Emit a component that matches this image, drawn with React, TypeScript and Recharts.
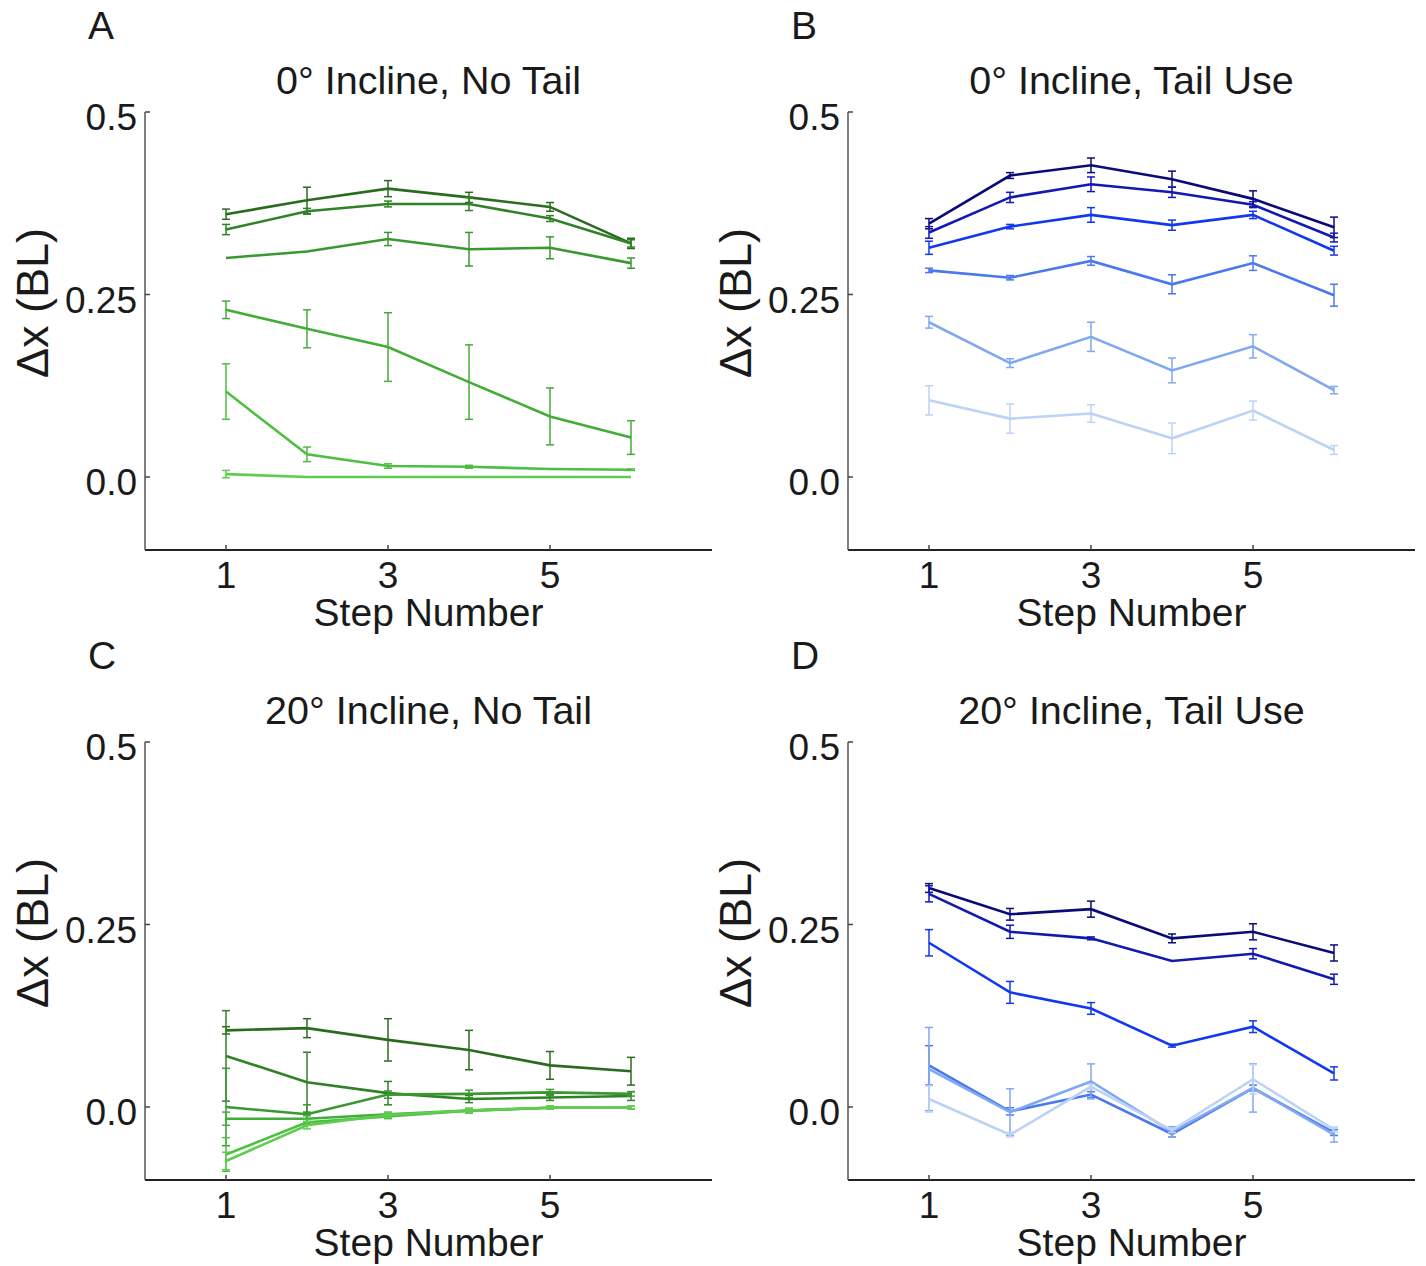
import React from "react";
import { LineChart, Line, XAxis, YAxis, ErrorBar } from "recharts";

const steps = [1, 2, 3, 4, 5, 6];
const xTicks = [1, 3, 5];
const yTicks = [0, 0.25, 0.5];

const greens = ["#2b6b1f", "#318227", "#39982f", "#43ad37", "#4dbf41", "#5fcd50"];
const blues = ["#0b0b78", "#1219b0", "#1138ee", "#4a78ee", "#80a8f2", "#bcd3f6"];

// panel A: 0° incline, no tail
const aMeans = [
  [0.36, 0.379, 0.395, 0.383, 0.37, 0.32],
  [0.339, 0.364, 0.374, 0.374, 0.354, 0.32],
  [0.3, 0.309, 0.326, 0.312, 0.314, 0.293],
  [0.229, 0.203, 0.178, 0.13, 0.083, 0.054],
  [0.117, 0.031, 0.015, 0.014, 0.011, 0.01],
  [0.004, 0, 0, 0, 0, 0],
];
const aErrs = [
  [0.007, 0.018, 0.011, 0.007, 0.006, 0.007],
  [0.007, 0.004, 0.004, 0.009, 0.004, 0.005],
  [null, null, 0.009, 0.023, 0.015, 0.007],
  [0.012, 0.026, 0.047, 0.051, 0.039, 0.023],
  [0.038, 0.01, 0.003, 0.002, null, 0.001],
  [0.005, null, null, null, null, null],
];

// panel B: 0° incline, tail use
const bMeans = [
  [0.347, 0.413, 0.427, 0.408, 0.381, 0.342],
  [0.335, 0.383, 0.401, 0.39, 0.373, 0.328],
  [0.314, 0.343, 0.359, 0.345, 0.359, 0.31],
  [0.283, 0.273, 0.296, 0.264, 0.293, 0.249],
  [0.212, 0.156, 0.192, 0.146, 0.179, 0.119],
  [0.105, 0.08, 0.087, 0.053, 0.091, 0.037],
];
const bErrs = [
  [0.007, 0.004, 0.01, 0.011, 0.011, 0.014],
  [0.008, 0.007, 0.01, 0.007, 0.004, 0.006],
  [0.009, 0.003, 0.01, 0.007, 0.005, 0.006],
  [0.003, 0.003, 0.006, 0.013, 0.01, 0.015],
  [0.008, 0.006, 0.02, 0.017, 0.016, 0.005],
  [0.02, 0.02, 0.012, 0.021, 0.013, 0.006],
];

// panel C: 20° incline, no tail
const cMeans = [
  [0.105, 0.108, 0.092, 0.078, 0.057, 0.049],
  [0.07, 0.034, 0.019, 0.011, 0.013, 0.015],
  [0.0, -0.01, 0.017, 0.018, 0.02, 0.018],
  [-0.016, -0.016, -0.01, -0.005, -0.001, -0.001],
  [-0.065, -0.021, -0.013, -0.005, -0.001, -0.001],
  [-0.074, -0.025, -0.011, -0.005, -0.001, -0.001],
];
const cErrs = [
  [0.005, 0.013, 0.029, 0.027, 0.019, 0.019],
  [0.062, 0.041, 0.016, 0.005, 0.004, 0.006],
  [0.053, 0.013, 0.005, 0.005, 0.004, 0.003],
  [0.009, 0.004, 0.003, 0.003, 0.002, 0.002],
  [0.023, 0.004, 0.003, 0.003, 0.002, 0.002],
  [0.012, 0.005, 0.003, 0.003, 0.002, 0.002],
];

// panel D: 20° incline, tail use
const dMeans = [
  [0.3, 0.264, 0.271, 0.231, 0.24, 0.211],
  [0.292, 0.24, 0.231, 0.2, 0.21, 0.175],
  [0.225, 0.157, 0.135, 0.084, 0.11, 0.046],
  [0.057, -0.006, 0.017, -0.037, 0.026, -0.035],
  [0.052, -0.007, 0.035, -0.034, 0.026, -0.038],
  [0.011, -0.038, 0.028, -0.032, 0.038, -0.031],
];
const dErrs = [
  [0.006, 0.008, 0.011, 0.006, 0.011, 0.011],
  [0.011, 0.009, 0.002, null, 0.007, 0.007],
  [0.018, 0.015, 0.008, 0.002, 0.008, 0.009],
  [0.027, 0.005, 0.004, 0.004, 0.004, 0.004],
  [0.057, 0.032, 0.024, 0.007, 0.033, 0.01],
  [0.018, 0.003, 0.003, 0.003, 0.02, 0.003],
];

const FONT = "'Liberation Sans', Arial, Helvetica, sans-serif";
const TXT = "#1a1a1a";

const PLOT_W = 567;
const PLOT_H = 438;
const Y_AXIS_W = 100;
const X_AXIS_H = 50;
const M_TOP = 30;
const M_RIGHT = 10;

const panels = [
  { letter: "A", title: "0° Incline, No Tail", means: aMeans, errs: aErrs, colors: greens, left: 145, top: 112 },
  { letter: "B", title: "0° Incline, Tail Use", means: bMeans, errs: bErrs, colors: blues, left: 848, top: 112 },
  { letter: "C", title: "20° Incline, No Tail", means: cMeans, errs: cErrs, colors: greens, left: 145, top: 742 },
  { letter: "D", title: "20° Incline, Tail Use", means: dMeans, errs: dErrs, colors: blues, left: 848, top: 742 },
];

function buildRows(means: number[][], errs: (number | null)[][]) {
  return steps.map((s, i) => {
    const row: Record<string, number | null> = { step: s };
    means.forEach((m, k) => {
      row[`s${k}`] = m[i];
      row[`e${k}`] = errs[k][i];
    });
    return row;
  });
}

const fmtY = (v: number) => (v === 0 ? "0.0" : String(v));

const YTick = (props: any) => {
  const { x, y, payload } = props;
  return (
    <g>
      <line x1={x} x2={x + 5} y1={y} y2={y} stroke="#444" strokeWidth={1.5} />
      <text x={x - 8} y={y + 18} textAnchor="end" fontSize={37} fill={TXT} fontFamily={FONT}>
        {fmtY(payload.value)}
      </text>
    </g>
  );
};

const XTick = (props: any) => {
  const { x, y, payload } = props;
  return (
    <g>
      <line x1={x} x2={x} y1={y} y2={y - 5} stroke="#444" strokeWidth={1.5} />
      <text x={x} y={y + 38} textAnchor="middle" fontSize={37} fill={TXT} fontFamily={FONT}>
        {payload.value}
      </text>
    </g>
  );
};

function Panel({ p }: { p: (typeof panels)[number] }) {
  const rows = buildRows(p.means, p.errs);
  const w = Y_AXIS_W + PLOT_W + M_RIGHT;
  const h = M_TOP + PLOT_H + X_AXIS_H;
  return (
    <div style={{ position: "absolute", left: p.left - Y_AXIS_W, top: p.top - M_TOP }}>
      <LineChart width={w} height={h} data={rows} margin={{ top: M_TOP, right: M_RIGHT, bottom: 0, left: 0 }}>
        <XAxis
          dataKey="step"
          type="number"
          domain={[0, 7]}
          ticks={xTicks}
          height={X_AXIS_H}
          tickLine={false}
          tickSize={0}
          tickMargin={0}
          tick={<XTick />}
          axisLine={{ stroke: "#222", strokeWidth: 2 }}
          interval={0}
        />
        <YAxis
          type="number"
          domain={[-0.1, 0.5]}
          ticks={yTicks}
          width={Y_AXIS_W}
          tickLine={false}
          tickSize={0}
          tickMargin={0}
          tick={<YTick />}
          axisLine={{ stroke: "#555", strokeWidth: 1.5 }}
          interval={0}
        />
        {p.means.map((_, k) => (
          <Line
            key={k}
            type="linear"
            dataKey={`s${k}`}
            stroke={p.colors[k]}
            strokeWidth={2.6}
            dot={false}
            activeDot={false}
            isAnimationActive={false}
          >
            <ErrorBar dataKey={`e${k}`} width={4} stroke={p.colors[k]} strokeWidth={1.5} isAnimationActive={false} />
          </Line>
        ))}
      </LineChart>
    </div>
  );
}

export default function App() {
  return (
    <div style={{ position: "absolute", left: 0, top: 0, width: 1426, height: 1266, background: "#fff" }}>
      {panels.map((p) => (
        <Panel key={p.letter} p={p} />
      ))}
      <svg
        width={1426}
        height={1266}
        style={{ position: "absolute", left: 0, top: 0, pointerEvents: "none" }}
        fontFamily={FONT}
        fill={TXT}
      >
        {panels.map((p) => {
          const cx = p.left + PLOT_W / 2;
          const dy = p.top - 112;
          const lx = p.left - 97;
          const ly = 303 + dy;
          return (
            <g key={p.letter}>
              <text x={p.left - 57} y={39 + dy} fontSize={39}>
                {p.letter}
              </text>
              <text x={cx} y={94 + dy} fontSize={39.5} textAnchor="middle">
                {p.title}
              </text>
              <text x={cx} y={626 + dy} fontSize={39} textAnchor="middle">
                Step Number
              </text>
              <text x={lx} y={ly} fontSize={45} textAnchor="middle" transform={`rotate(-90 ${lx} ${ly})`}>
                Δx (BL)
              </text>
            </g>
          );
        })}
      </svg>
    </div>
  );
}
